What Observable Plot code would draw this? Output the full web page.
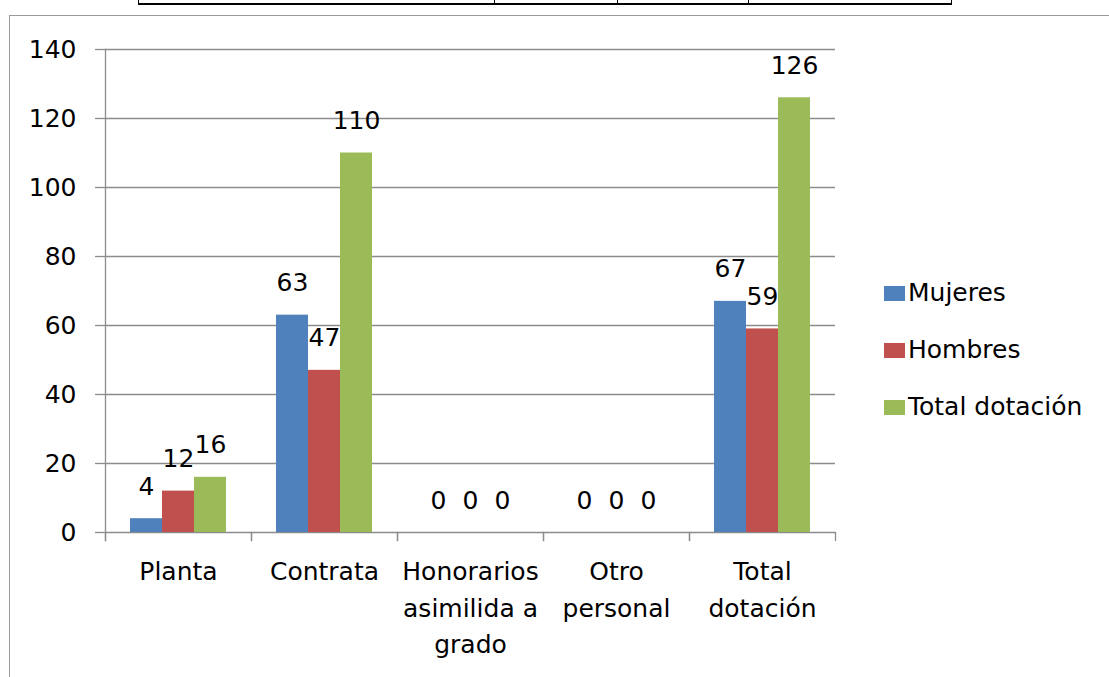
<!DOCTYPE html>
<html>
<head>
<meta charset="utf-8">
<script src="https://cdn.jsdelivr.net/npm/d3@7"></script>
<script src="https://cdn.jsdelivr.net/npm/@observablehq/plot@0.6"></script>
<style>
  html, body { margin: 0; padding: 0; background: #fff; width: 1109px; height: 677px; overflow: hidden; position: relative; font-family: "DejaVu Sans", sans-serif; }
  .border { position: absolute; left: 9px; top: 15px; width: 1200px; height: 800px; border-left: 1px solid #9a9a9a; border-top: 1px solid #9a9a9a; }
  .tline { position: absolute; background: #000; }
  #chart { position: absolute; left: 0; top: 0; }
  .legend { position: absolute; left: 884px; top: 276px; font-size: 25px; color: #000; }
  .legend .item { position: absolute; left: 0; white-space: nowrap; height: 34px; line-height: 34px; }
  .legend .sw { position: absolute; left: 0; top: 10px; width: 21px; height: 15px; }
  .legend .lb { position: absolute; left: 24px; top: 0; }
</style>
</head>
<body>
<div class="border"></div>
<div class="tline" style="left:138px;top:3px;width:814px;height:2px"></div>
<div class="tline" style="left:138px;top:0;width:1px;height:4px"></div>
<div class="tline" style="left:494px;top:0;width:1px;height:4px"></div>
<div class="tline" style="left:617px;top:0;width:1px;height:4px"></div>
<div class="tline" style="left:748px;top:0;width:1px;height:4px"></div>
<div class="tline" style="left:951px;top:0;width:1px;height:4px"></div>
<div id="chart"></div>
<div class="legend" id="legend"></div>
<script>
const categories = ["Planta", "Contrata", "Honorarios\nasimilida a\ngrado", "Otro\npersonal", "Total\ndotación"];
const series = ["Mujeres", "Hombres", "Total dotación"];
const mujeres = [4, 63, 0, 0, 67];
const hombres = [12, 47, 0, 0, 59];
const total = [16, 110, 0, 0, 126];
const yTicks = [0, 20, 40, 60, 80, 100, 120, 140];
const colors = ["#4F81BD", "#C0504D", "#9BBB59"];

const valuesBySeries = [mujeres, hombres, total];
const rows = [];
categories.forEach((c, i) => {
  series.forEach((s, j) => rows.push({cat: c, series: s, value: valuesBySeries[j][i]}));
});

const gray = "#8c8c8c";
const chart = Plot.plot({
  width: 1109,
  height: 677,
  marginLeft: 104,
  marginRight: 273,
  marginTop: 49,
  marginBottom: 145,
  style: {fontFamily: "DejaVu Sans", fontSize: "25px", color: "#000", background: "transparent"},
  fx: {domain: categories, padding: 0, axis: null},
  x: {domain: series, paddingInner: 0, paddingOuter: 0.75, axis: null},
  y: {domain: [0, 140], axis: null},
  color: {domain: series, range: colors},
  marks: [
    Plot.ruleY(yTicks, {stroke: gray, strokeWidth: 1.3}),
    Plot.frame({anchor: "left", facet: "super", stroke: gray, strokeWidth: 1.3, insetBottom: -8}),
    Plot.frame({anchor: "left", stroke: gray, strokeWidth: 1.3, insetTop: 483, insetBottom: -8}),
    Plot.frame({anchor: "right", stroke: gray, strokeWidth: 1.3, insetTop: 483, insetBottom: -8}),
    Plot.barY(rows, {fx: "cat", x: "series", y: "value", fill: "series"}),
    Plot.text(rows, {fx: "cat", x: "series", y: "value", text: d => String(d.value), dy: -32, fill: "#000", fontSize: 25}),
    Plot.axisY({ticks: yTicks, tickSize: 10, tickPadding: 19, stroke: gray, strokeWidth: 1.3, label: null, fill: "#000"}),
    Plot.axisFx({anchor: "bottom", tickSize: 0, tickPadding: 22, lineHeight: 1.46, label: null, fill: "#000"})
  ]
});
document.getElementById("chart").appendChild(chart);

const legend = document.getElementById("legend");
series.forEach((s, i) => {
  const item = document.createElement("div");
  item.className = "item";
  item.style.top = (i * 57) + "px";
  item.innerHTML = `<span class="sw" style="background:${colors[i]}"></span><span class="lb">${s}</span>`;
  legend.appendChild(item);
});
</script>
</body>
</html>
